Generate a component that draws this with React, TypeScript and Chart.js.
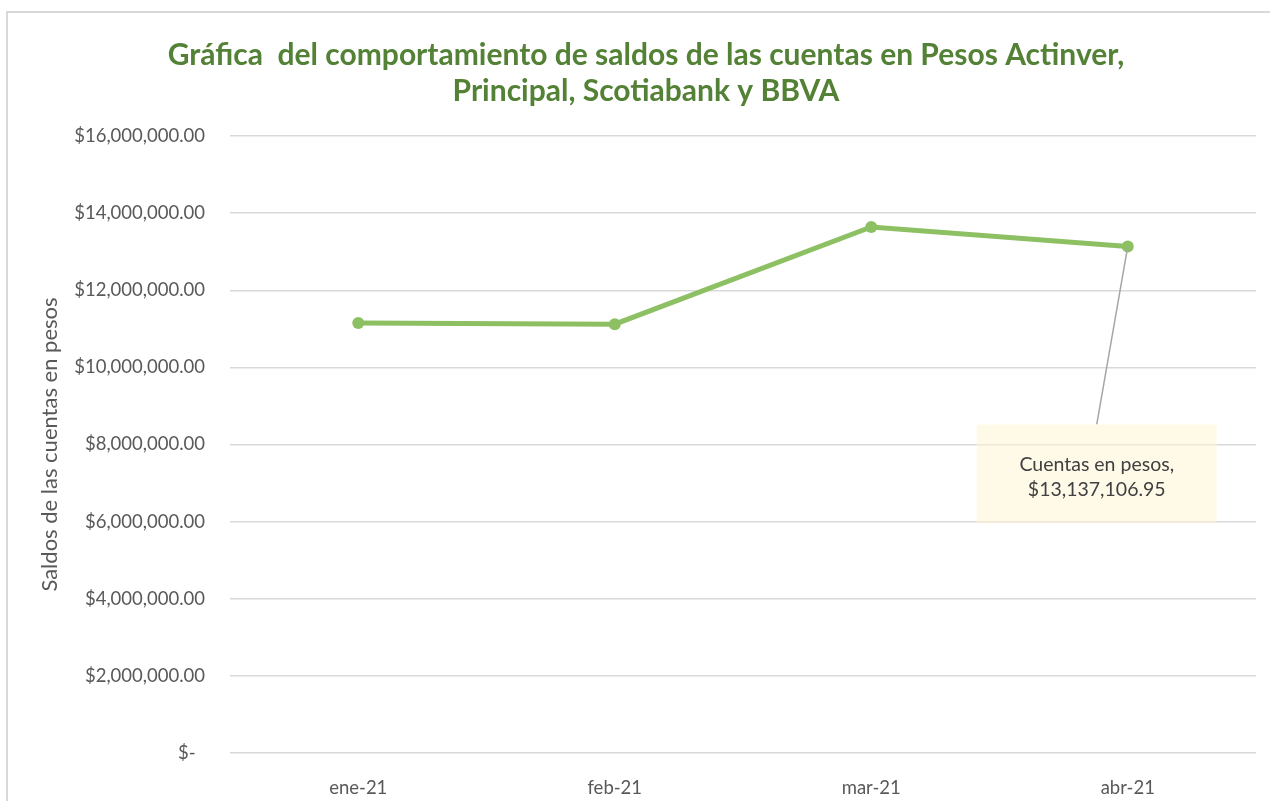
import React, { useEffect, useRef } from "react";
import { Chart, registerables } from "chart.js";

Chart.register(...registerables);

// ---- data ----
const categories = ["ene-21", "feb-21", "mar-21", "abr-21"];
const saldos = [11150000, 11120000, 13640000, 13137106.95];
const yTickValues = [0, 2000000, 4000000, 6000000, 8000000, 10000000, 12000000, 14000000, 16000000];
const seriesName = "Cuentas en pesos";
const titleLines = [
  "Gráfica  del comportamiento de saldos de las cuentas en Pesos Actinver,",
  "Principal, Scotiabank y BBVA",
];
const yAxisTitle = "Saldos de las cuentas en pesos";
const labelledIndex = 3;

const W = 1270;
const H = 801;
const FONT = "Lato, 'Open Sans', sans-serif";

const money = (v: number) =>
  v === 0
    ? "$-  "
    : "$" + v.toLocaleString("en-US", { minimumFractionDigits: 2, maximumFractionDigits: 2 });

const calloutPlugin = {
  id: "callout",
  afterDatasetsDraw(chart: any) {
    const meta = chart.getDatasetMeta(0);
    const pt = meta.data[labelledIndex];
    if (!pt) return;
    const ctx = chart.ctx;
    const boxW = 240;
    const boxH = 99;
    const cx = pt.x - 31;
    const top = pt.y + 178;
    ctx.save();
    // leader line
    ctx.strokeStyle = "#a6a6a6";
    ctx.lineWidth = 1.5;
    ctx.beginPath();
    ctx.moveTo(cx, top);
    ctx.lineTo(pt.x, pt.y);
    ctx.stroke();
    // box
    ctx.fillStyle = "rgba(255, 244, 214, 0.55)";
    ctx.fillRect(cx - boxW / 2, top, boxW, boxH);
    // text
    ctx.fillStyle = "#404040";
    ctx.font = `19.5px ${FONT}`;
    ctx.textAlign = "center";
    ctx.textBaseline = "middle";
    ctx.fillText(seriesName + ",", cx, top + 40);
    ctx.fillText(money(saldos[labelledIndex]), cx, top + 65);
    ctx.restore();
  },
};

export default function App() {
  const ref = useRef<HTMLCanvasElement>(null);

  useEffect(() => {
    if (!ref.current) return;
    const chart = new Chart(ref.current, {
      type: "line",
      data: {
        labels: categories,
        datasets: [
          {
            label: seriesName,
            data: saldos,
            borderColor: "#8dc063",
            backgroundColor: "#8dc063",
            borderWidth: 5,
            pointRadius: 6,
            pointHoverRadius: 6,
            pointBackgroundColor: "#8dc063",
            pointBorderWidth: 0,
            tension: 0,
          },
        ],
      },
      options: {
        animation: false,
        responsive: false,
        devicePixelRatio: 1,
        layout: { padding: { left: 36, right: 14, top: 0, bottom: 0 } },
        plugins: {
          legend: { display: false },
          tooltip: { enabled: false },
          title: {
            display: true,
            text: titleLines,
            color: "#538135",
            font: { family: FONT, size: 30, weight: "bold", lineHeight: 36 / 30 },
            padding: { top: 37, bottom: 27 },
          },
        },
        scales: {
          x: {
            offset: true,
            grid: { display: false },
            border: { display: false },
            ticks: {
              color: "#595959",
              font: { family: FONT, size: 18.5 },
              padding: 16,
            },
            afterFit: (s: any) => {
              s.height = 48;
            },
          },
          y: {
            min: 0,
            max: 16000000,
            border: { display: false },
            grid: { color: "#d9d9d9", lineWidth: 1.5, drawTicks: false },
            afterBuildTicks: (s: any) => {
              s.ticks = yTickValues.map((v) => ({ value: v }));
            },
            ticks: {
              color: "#595959",
              font: { family: FONT, size: 18.5 },
              padding: 25,
              callback: (v: any) => money(Number(v)),
            },
            title: {
              display: true,
              text: yAxisTitle,
              color: "#595959",
              font: { family: FONT, size: 22, lineHeight: 1.2 },
              padding: { top: 1, bottom: 0 },
            },
            afterFit: (s: any) => {
              s.width = 194;
            },
          },
        },
      },
      plugins: [calloutPlugin],
    } as any);
    return () => chart.destroy();
  }, []);

  return (
    <div style={{ position: "fixed", left: 0, top: 0, width: W, height: H, background: "#fff", overflow: "hidden" }}>
      <div
        style={{
          position: "absolute",
          left: 6,
          top: 11,
          right: -10,
          bottom: -10,
          borderLeft: "2px solid #d9d9d9",
          borderTop: "2px solid #d9d9d9",
        }}
      />
      <canvas ref={ref} width={W} height={H} style={{ position: "absolute", left: 0, top: 0 }} />
    </div>
  );
}
